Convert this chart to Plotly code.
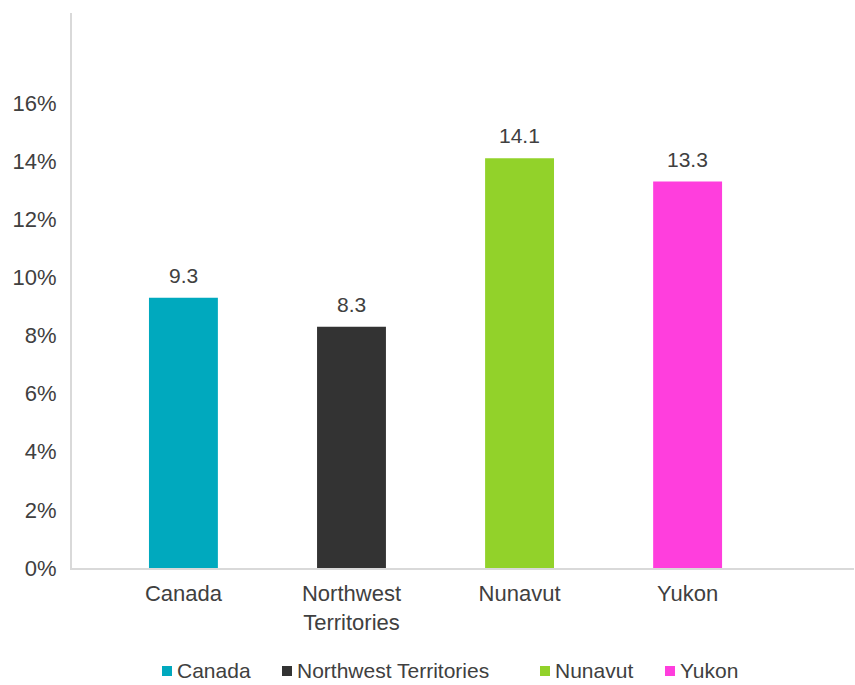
import plotly.graph_objects as go

# Values (percent) per jurisdiction
categories = ["Canada", "Northwest Territories", "Nunavut", "Yukon"]
tick_labels = ["Canada", "Northwest<br>Territories", "Nunavut", "Yukon"]
values = [9.3, 8.3, 14.1, 13.3]
colors = ["#00A9BE", "#333333", "#92D22A", "#FF3EDD"]

y_ticks = [0, 2, 4, 6, 8, 10, 12, 14, 16]
y_tick_text = [f"{v}%" for v in y_ticks]

FONT = "Liberation Sans, Arial, Helvetica, sans-serif"
TEXT = "#404040"
SIZE = 22

W, H = 855, 685
M_L, M_R, M_T, M_B = 72, 1, 13, 117
PLOT_W = W - M_L - M_R
PLOT_H = H - M_T - M_B


def px_x(px):
    """Page pixel column -> paper x."""
    return (px - M_L) / PLOT_W


def px_y(py):
    """Page pixel row -> paper y."""
    return (H - M_B - py) / PLOT_H


fig = go.Figure()
for i, (cat, val, col) in enumerate(zip(categories, values, colors)):
    fig.add_trace(go.Bar(
        x=[i], y=[val], name=cat,
        marker=dict(color=col, line=dict(width=0)),
        width=0.41,
        hoverinfo="skip",
        showlegend=False,
    ))
    fig.add_annotation(
        x=i, y=val, text=f"{val:.1f}", showarrow=False,
        yanchor="bottom", yshift=9,
        font=dict(family=FONT, size=21, color=TEXT),
    )

# Legend row: small colour square followed closely by the series name
legend_left = [162, 282, 540, 665]   # left edge of each swatch (px)
legend_row = 670                      # row centre (px)
swatch = 10
for name, col, lx in zip(categories, colors, legend_left):
    fig.add_shape(
        type="rect", xref="paper", yref="paper",
        x0=px_x(lx), x1=px_x(lx + swatch),
        y0=px_y(legend_row + 1 + swatch / 2), y1=px_y(legend_row + 1 - swatch / 2),
        fillcolor=col, line=dict(width=0),
    )
    fig.add_annotation(
        xref="paper", yref="paper",
        x=px_x(lx + swatch + 4), y=px_y(legend_row),
        xanchor="left", yanchor="middle",
        text=name, showarrow=False, borderpad=0,
        font=dict(family=FONT, size=21, color=TEXT),
    )

fig.update_layout(
    width=W, height=H,
    margin=dict(l=M_L, r=M_R, t=M_T, b=M_B),
    paper_bgcolor="white", plot_bgcolor="white",
    barmode="overlay",
    font=dict(family=FONT, size=SIZE, color=TEXT),
    showlegend=False,
    xaxis=dict(
        tickmode="array", tickvals=list(range(len(categories))),
        ticktext=tick_labels,
        range=[-0.663, 3.99],
        showline=True, linecolor="#D9D9D9", linewidth=2,
        showgrid=False, zeroline=False, ticks="",
        ticklabelstandoff=5,
        tickfont=dict(family=FONT, size=SIZE, color=TEXT),
    ),
    yaxis=dict(
        range=[0, 19.1],
        tickmode="array", tickvals=y_ticks, ticktext=y_tick_text,
        showline=True, linecolor="#D9D9D9", linewidth=2,
        showgrid=False, zeroline=False, ticks="",
        ticklabelstandoff=9,
        tickfont=dict(family=FONT, size=SIZE, color=TEXT),
    ),
)

fig.write_html("out.html")
